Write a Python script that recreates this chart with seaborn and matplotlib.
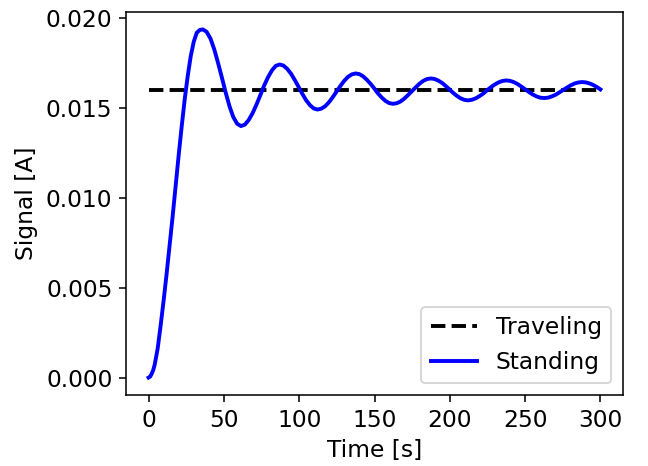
import matplotlib
matplotlib.use("Agg")
import matplotlib.pyplot as plt
import seaborn as sns

# valores (tempo em s, sinal em A)
tempo_standing = [
    0, 1, 2, 3, 4, 6, 8, 10, 12, 14, 16, 18, 20, 22, 24, 26, 28, 30, 32, 34, 36,
    38.5, 41.1, 43.6, 46.1, 48.7, 51.2, 53.7, 56.2, 58.8, 61.3,
    63.9, 66.4, 69.0, 71.6, 74.2, 76.7, 79.3, 81.9, 84.4, 87.0,
    89.5, 92.0, 94.6, 97.1, 99.6, 102.1, 104.6, 107.2, 109.7, 112.2,
    114.7, 117.3, 119.8, 122.3, 124.9, 127.4, 129.9, 132.4, 135.0, 137.5,
    140.0, 142.4, 144.9, 147.4, 149.9, 152.3, 154.8, 157.3, 159.7, 162.2,
    164.7, 167.3, 169.8, 172.3, 174.9, 177.4, 179.9, 182.4, 185.0, 187.5,
    190.0, 192.4, 194.9, 197.3, 199.8, 202.2, 204.7, 207.1, 209.6, 212.0,
    214.5, 217.1, 219.6, 222.2, 224.7, 227.2, 229.8, 232.3, 234.9, 237.4,
    239.9, 242.4, 245.0, 247.5, 250.0, 252.5, 255.0, 257.6, 260.1, 262.6,
    265.1, 267.7, 270.2, 272.7, 275.3, 277.8, 280.3, 282.8, 285.4, 287.9,
    290.4, 292.9, 295.4, 297.9, 300.0,
]
sinal_standing = [
    0.0, 0.00005, 0.0002, 0.0004, 0.0007, 0.0016, 0.0029, 0.0043, 0.0058, 0.0074,
    0.0090, 0.0107, 0.0124, 0.0140, 0.0155, 0.0168, 0.0179, 0.0187, 0.0192, 0.01935, 0.01938,
    0.01925, 0.01887, 0.01827, 0.01752, 0.01669, 0.01586, 0.01511, 0.01451, 0.01413, 0.01400,
    0.01408, 0.01433, 0.01471, 0.01519, 0.01572, 0.01625, 0.01672, 0.01710, 0.01735, 0.01743,
    0.01737, 0.01719, 0.01691, 0.01656, 0.01618, 0.01579, 0.01544, 0.01516, 0.01498, 0.01492,
    0.01497, 0.01511, 0.01533, 0.01561, 0.01593, 0.01624, 0.01652, 0.01674, 0.01688, 0.01693,
    0.01689, 0.01677, 0.01658, 0.01635, 0.01609, 0.01582, 0.01559, 0.01540, 0.01528, 0.01524,
    0.01527, 0.01537, 0.01553, 0.01573, 0.01595, 0.01616, 0.01636, 0.01652, 0.01662, 0.01665,
    0.01662, 0.01653, 0.01640, 0.01623, 0.01604, 0.01585, 0.01568, 0.01555, 0.01546, 0.01543,
    0.01546, 0.01554, 0.01566, 0.01581, 0.01599, 0.01616, 0.01631, 0.01643, 0.01651, 0.01654,
    0.01652, 0.01645, 0.01634, 0.01620, 0.01605, 0.01590, 0.01576, 0.01565, 0.01558, 0.01556,
    0.01558, 0.01565, 0.01574, 0.01587, 0.01601, 0.01614, 0.01627, 0.01637, 0.01643, 0.01645,
    0.01643, 0.01637, 0.01628, 0.01616, 0.01604,
]

tempo_traveling = [0, 300]
sinal_traveling = [0.016, 0.016]

dpi = 140
plt.rcParams["font.size"] = 12
plt.rcParams["font.family"] = ["DejaVu Sans"]

fig = plt.figure(figsize=(648 / dpi, 466 / dpi), dpi=dpi)
ax = fig.add_axes([126 / 648, 1 - 395 / 466, 497 / 648, 383 / 466])

sns.lineplot(x=tempo_traveling, y=sinal_traveling, ax=ax, color="black",
             linestyle="--", linewidth=2, label="Traveling")
sns.lineplot(x=tempo_standing, y=sinal_standing, ax=ax, color="blue",
             linewidth=2, label="Standing")

ax.set_xlabel("Time [s]")
ax.set_ylabel("Signal [A]")
ax.set_xticks([0, 50, 100, 150, 200, 250, 300])
ax.set_yticks([0.0, 0.005, 0.010, 0.015, 0.020])
ax.set_xlim(-15, 315)
ax.set_ylim(-0.00097, 0.02035)
ax.legend(loc="lower right")

fig.savefig("out.png", dpi=dpi)
